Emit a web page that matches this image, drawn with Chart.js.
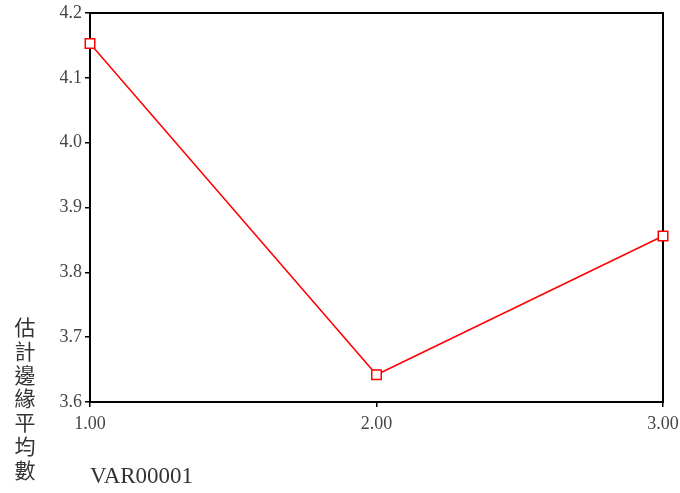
<!DOCTYPE html>
<html>
<head>
<meta charset="utf-8">
<script src="https://cdn.jsdelivr.net/npm/chart.js@4/dist/chart.umd.min.js"></script>
<style>
  html, body { margin: 0; padding: 0; background: #fff; }
  #wrap { width: 680px; height: 493px; }
</style>
</head>
<body>
<div id="wrap"><canvas id="meansChart" width="680" height="493"></canvas></div>
<script>
// estimated marginal means per level of VAR00001
const levels = [1, 2, 3];
const means = [4.153, 3.642, 3.856];
const yTitle = '估計邊緣平均數';
const xTitle = 'VAR00001';

const serif = "'Liberation Serif', 'Times New Roman', serif";

// box around the plot area, drawn under the markers
const frame = {
  id: 'frame',
  beforeDatasetsDraw(chart) {
    const a = chart.chartArea, ctx = chart.ctx;
    ctx.save();
    ctx.strokeStyle = '#000';
    ctx.lineWidth = 2;
    ctx.strokeRect(a.left, a.top, a.right - a.left, a.bottom - a.top);
    ctx.restore();
  }
};

// y title stacked one character per line
const stackedTitle = {
  id: 'stackedTitle',
  afterDraw(chart) {
    const ctx = chart.ctx;
    ctx.save();
    ctx.fillStyle = '#333';
    ctx.font = "21px 'Noto Sans CJK TC'";
    ctx.textAlign = 'center';
    ctx.textBaseline = 'middle';
    [...yTitle].forEach((ch, i) => ctx.fillText(ch, 25, 327 + i * 23.8));
    ctx.restore();
  }
};

new Chart(document.getElementById('meansChart').getContext('2d'), {
  type: 'line',
  data: {
    datasets: [{
      data: levels.map((x, i) => ({ x: x, y: means[i] })),
      borderColor: '#ff0000',
      borderWidth: 1.5,
      pointStyle: 'rect',
      pointRadius: 6.7,
      pointBorderWidth: 1.5,
      pointBorderColor: '#ff0000',
      pointBackgroundColor: '#fff',
      tension: 0,
      clip: false
    }]
  },
  options: {
    responsive: false,
    animation: false,
    devicePixelRatio: 1,
    layout: { padding: { left: 0, top: 13, right: 17, bottom: 0 } },
    plugins: { legend: { display: false }, tooltip: { enabled: false } },
    scales: {
      x: {
        type: 'linear',
        min: 1, max: 3,
        afterFit: s => { s.height = 91; s.paddingLeft = 0; s.paddingRight = 0; },
        border: { display: true, color: '#000', width: 2 },
        grid: { display: true, drawOnChartArea: false, tickLength: 5, color: '#000', lineWidth: 1.5 },
        ticks: {
          stepSize: 1,
          padding: 6,
          color: '#444',
          font: { family: serif, size: 18 },
          maxRotation: 0,
          callback: v => v.toFixed(2)
        },
        title: {
          display: true,
          text: xTitle,
          align: 'start',
          color: '#333',
          font: { family: serif, size: 23 },
          padding: { top: 0, bottom: 2 }
        }
      },
      y: {
        min: 3.6, max: 4.2,
        afterFit: s => { s.width = 90; s.paddingTop = 0; s.paddingBottom = 0; },
        border: { display: true, color: '#000', width: 2 },
        grid: { display: true, drawOnChartArea: false, tickLength: 5, color: '#000', lineWidth: 1.5 },
        ticks: {
          stepSize: 0.1,
          padding: 3,
          color: '#444',
          font: { family: serif, size: 18 },
          callback: v => v.toFixed(1)
        }
      }
    }
  },
  plugins: [frame, stackedTitle]
});
</script>
</body>
</html>
